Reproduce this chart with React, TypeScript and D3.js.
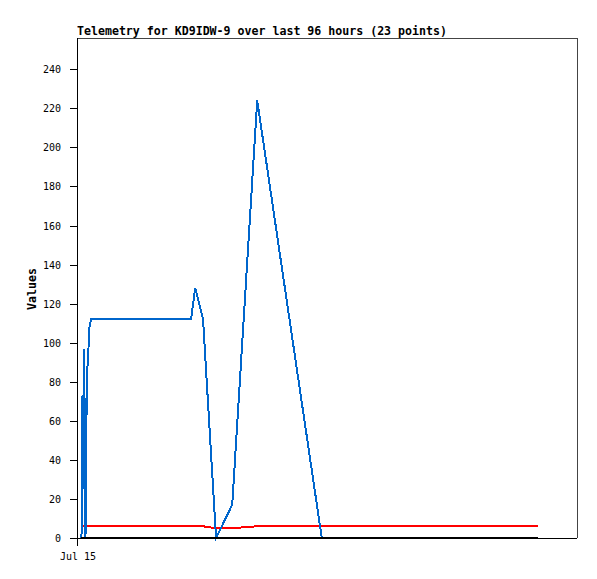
import React from "react";
import * as d3 from "d3";

const title = "Telemetry for KD9IDW-9 over last 96 hours (23 points)";
const yLabel = "Values";
const xTickLabel = "Jul 15";
const yTicks = [0, 20, 40, 60, 80, 100, 120, 140, 160, 180, 200, 220, 240];

// hours since start of window
const hours = [0.86, 0.96, 1.06, 1.15, 1.34, 1.44, 1.63, 1.73, 1.92, 2.11, 2.4, 2.69, 21.9, 22.7, 24.2, 26.7, 29.8, 34.6, 47.0, 88.5];
const blueValues = [0, 25, 73, 25, 97, 73, 0, 40, 84, 92, 108, 112, 112, 128, 112, 0, 17, 224, 0, 0];
const redValues = [6, 6, 6, 6, 6, 6, 6, 6, 6, 6, 6, 6, 6, 6, 6, 5, 5, 6, 6, 6];
const blackValues = [0, 0, 0, 0, 0, 0, 0, 0, 0, 0, 0, 0, 0, 0, 0, 0, 0, 0, 0, 0];

const W = 597;
const H = 579;
const left = 77;
const right = 577;
const top = 38;
const bottom = 538;

export default function App() {
  const x = d3.scaleLinear().domain([0, 96]).range([left, right]);
  const y = d3.scaleLinear().domain([0, 256]).range([bottom, top]);
  const line = (vals: number[]) =>
    d3
      .line<number>()
      .x((_, i) => x(hours[i]))
      .y((d) => y(d))(vals) || "";

  const mono = "'DejaVu Sans Mono', 'Liberation Mono', monospace";

  return (
    <svg
      width={W}
      height={H}
      style={{ position: "absolute", left: 0, top: 0, background: "#fff" }}
      shapeRendering="crispEdges"
    >
      <rect x={0} y={0} width={W} height={H} fill="#fff" />
      <text x={left} y={35} fontFamily={mono} fontWeight="bold" fontSize={11.6} fill="#000">
        {title}
      </text>
      {/* frame */}
      <line x1={left} y1={top + 0.5} x2={right} y2={top + 0.5} stroke="#444" strokeWidth={1} />
      <line x1={right + 0.5} y1={top} x2={right + 0.5} y2={bottom} stroke="#444" strokeWidth={1} />
      <line x1={left} y1={bottom + 0.5} x2={right} y2={bottom + 0.5} stroke="#000" strokeWidth={1} />
      <line x1={left + 0.5} y1={top} x2={left + 0.5} y2={bottom + 8} stroke="#000" strokeWidth={1} />
      {/* y ticks */}
      {yTicks.map((t) => (
        <g key={t}>
          <line x1={left - 7} y1={Math.round(y(t)) + 0.5} x2={left} y2={Math.round(y(t)) + 0.5} stroke="#000" />
          <text
            x={61}
            y={y(t) + 4}
            textAnchor="end"
            fontFamily={mono}
            fontSize={10}
            fill="#000"
          >
            {t}
          </text>
        </g>
      ))}
      {/* x tick label */}
      <text x={left + 1} y={560} textAnchor="middle" fontFamily={mono} fontSize={10} fill="#000">
        {xTickLabel}
      </text>
      <text
        transform={`translate(36,289) rotate(-90)`}
        textAnchor="middle"
        fontFamily={mono}
        fontWeight="bold"
        fontSize={11.6}
        fill="#000"
      >
        {yLabel}
      </text>
      {/* series */}
      <path d={line(redValues)} fill="none" stroke="#ff0000" strokeWidth={2} />
      <path d={line(blueValues)} fill="none" stroke="#0066cc" strokeWidth={2} />
      <path d={line(blackValues)} fill="none" stroke="#000" strokeWidth={2} />
    </svg>
  );
}
